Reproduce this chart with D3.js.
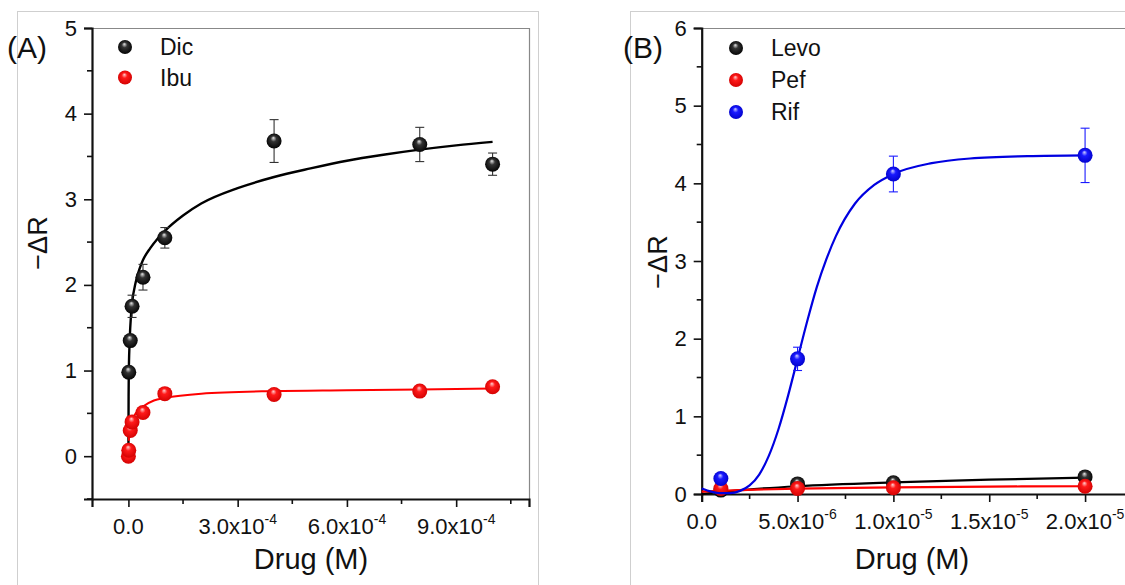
<!DOCTYPE html>
<html><head><meta charset="utf-8">
<script src="https://cdn.jsdelivr.net/npm/d3@7"></script>
<style>
body{margin:0;background:#fff}
text{font-family:"Liberation Sans",Arial,sans-serif;fill:#111}
</style></head>
<body><svg id="c" width="1125" height="585"></svg>
<script>
// ---------- Panel A data ----------
const dicX   = [1e-6, 5e-6, 1e-5, 4e-5, 1e-4, 4e-4, 8e-4, 1e-3];
const dicY   = [0.98, 1.35, 1.75, 2.09, 2.55, 3.68, 3.64, 3.41];
const dicErr = [0.05, 0.06, 0.13, 0.15, 0.12, 0.25, 0.20, 0.13];
const ibuX   = [0, 1e-6, 5e-6, 1e-5, 4e-5, 1e-4, 4e-4, 8e-4, 1e-3];
const ibuY   = [0.00, 0.07, 0.30, 0.40, 0.51, 0.73, 0.72, 0.76, 0.81];
// fitted curves
const dicFitX = [0, 5e-7, 1e-6, 3e-6, 5e-6, 1e-5, 2e-5, 3e-5, 4e-5, 6e-5, 8e-5, 1e-4, 1.5e-4, 2e-4, 3e-4, 4e-4, 5e-4, 6e-4, 7e-4, 8e-4, 9e-4, 1e-3];
const dicFitY = [0, 0.70, 0.95, 1.30, 1.50, 1.78, 2.03, 2.18, 2.29, 2.43, 2.54, 2.63, 2.81, 2.95, 3.13, 3.26, 3.36, 3.45, 3.52, 3.58, 3.63, 3.67];
const ibuFitX = [1e-6, 2e-6, 5e-6, 1e-5, 2e-5, 4e-5, 7e-5, 1e-4, 2e-4, 4e-4, 6e-4, 8e-4, 1e-3];
const ibuFitY = [0.18, 0.25, 0.35, 0.42, 0.50, 0.58, 0.65, 0.68, 0.73, 0.76, 0.77, 0.78, 0.79];
const xTicksA = [0, 3e-4, 6e-4, 9e-4];
const xLabA   = ["0.0", "3.0x10", "6.0x10", "9.0x10"];
const xExpA   = ["", "-4", "-4", "-4"];
const xMinorA = [1.5e-4, 4.5e-4, 7.5e-4, 1.05e-3];
const yTicksA = [0, 1, 2, 3, 4, 5];
const yMinorA = [-0.5, 0.5, 1.5, 2.5, 3.5, 4.5];

// ---------- Panel B data ----------
const bX      = [1e-6, 5e-6, 1e-5, 2e-5];
const levoY   = [0.05, 0.13, 0.145, 0.22];
const pefY    = [0.07, 0.07, 0.08, 0.10];
const rifY    = [0.20, 1.74, 4.12, 4.36];
const rifErr  = [0.03, 0.15, 0.23, 0.35];
const levoFitX = [0, 2e-6, 5e-6, 1e-5, 1.5e-5, 2e-5];
const levoFitY = [0.00, 0.05, 0.10, 0.15, 0.185, 0.21];
const pefFitX  = [0, 2e-6, 5e-6, 1e-5, 1.5e-5, 2e-5];
const pefFitY  = [0.03, 0.05, 0.07, 0.085, 0.095, 0.10];
const rifFitX  = [0, 5e-7, 1e-6, 1.5e-6, 2e-6, 2.5e-6, 3e-6, 3.5e-6, 4e-6, 4.5e-6, 5e-6, 5.5e-6, 6e-6, 6.5e-6, 7e-6, 8e-6, 9e-6, 1e-5, 1.2e-5, 1.4e-5, 1.7e-5, 2e-5];
const rifFitY  = [0.07, 0.03, 0.01, 0.01, 0.04, 0.11, 0.25, 0.49, 0.83, 1.26, 1.74, 2.22, 2.66, 3.02, 3.32, 3.74, 3.98, 4.12, 4.26, 4.32, 4.35, 4.36];
const xTicksB = [0, 5e-6, 1e-5, 1.5e-5, 2e-5];
const xLabB   = ["0.0", "5.0x10", "1.0x10", "1.5x10", "2.0x10"];
const xExpB   = ["", "-6", "-5", "-5", "-5"];
const xMinorB = [2.5e-6, 7.5e-6, 1.25e-5, 1.75e-5];
const yTicksB = [0, 1, 2, 3, 4, 5, 6];
const yMinorB = [0.5, 1.5, 2.5, 3.5, 4.5, 5.5];

const svg = d3.select("#c");
const defs = svg.append("defs");
function grad(id, hi, mid, dark) {
  const g = defs.append("radialGradient").attr("id", id)
    .attr("cx", "0.5").attr("cy", "0.5").attr("r", "0.55").attr("fx", "0.45").attr("fy", "0.28");
  g.append("stop").attr("offset", "0%").attr("stop-color", hi);
  g.append("stop").attr("offset", "35%").attr("stop-color", mid);
  g.append("stop").attr("offset", "100%").attr("stop-color", dark);
}
grad("gk", "#e8e8e8", "#333", "#000");
grad("gr", "#ffd0d0", "#ff1a1a", "#d00000");
grad("gb", "#d0d0ff", "#1a1aff", "#0000c8");

// panel outer boxes
svg.append("rect").attr("x", 17.5).attr("y", 11.5).attr("width", 521).attr("height", 620)
  .attr("fill", "none").attr("stroke", "#cfcfcf");
svg.append("rect").attr("x", 630.5).attr("y", 11.5).attr("width", 620).attr("height", 620)
  .attr("fill", "none").attr("stroke", "#cfcfcf");

function panel(o) {
  const g = svg.append("g");
  const x = d3.scaleLinear().domain(o.xd).range(o.xr);
  const y = d3.scaleLinear().domain(o.yd).range(o.yr);
  // frame top/right
  g.append("path").attr("d", `M${o.xr[0]},${o.yr[1]+0.5}H${o.xr[1]+0.5}V${o.yr[0]}`)
    .attr("fill", "none").attr("stroke", "#888").attr("stroke-width", 1.2);
  // y axis
  const ya = g.append("g").attr("transform", `translate(${o.xr[0]},0)`)
    .call(d3.axisLeft(y).tickValues(o.yt).tickFormat(d3.format("d")).tickSize(8).tickPadding(7));
  ya.append("g").selectAll("line").data(o.ym.filter(v => v >= o.yd[0] && v <= o.yd[1])).join("line")
    .attr("x1", 0).attr("x2", -5).attr("y1", d => y(d)).attr("y2", d => y(d))
    .attr("stroke", "#111").attr("stroke-width", 1.6);
  // x axis
  const xa = g.append("g").attr("transform", `translate(0,${o.yr[0]})`)
    .call(d3.axisBottom(x).tickValues(o.xt).tickFormat("").tickSize(8));
  xa.append("g").selectAll("line").data(o.xm).join("line")
    .attr("x1", d => x(d)).attr("x2", d => x(d)).attr("y1", 0).attr("y2", 5)
    .attr("stroke", "#111").attr("stroke-width", 1.6);
  [ya, xa].forEach(a => {
    a.select(".domain").attr("stroke", "#111").attr("stroke-width", 2.2);
    a.selectAll(".tick line").attr("stroke", "#111").attr("stroke-width", 1.6);
  });
  ya.selectAll(".tick text").attr("font-size", 22).attr("fill", "#111")
    .style("font-family", "Liberation Sans, Arial, sans-serif");
  // x tick labels with superscripts
  const tl = g.append("g");
  o.xt.forEach((v, i) => {
    const t = tl.append("text").attr("x", x(v)).attr("y", o.yr[0] + 35)
      .attr("text-anchor", "middle").attr("font-size", 22);
    t.append("tspan").text(o.xl[i]);
    if (o.xe[i]) t.append("tspan").attr("dy", -10).attr("font-size", 14).text(o.xe[i]);
  });
  // titles
  g.append("text").attr("x", o.xtitle[0]).attr("y", o.xtitle[1]).attr("text-anchor", "middle")
    .attr("font-size", 29).text("Drug (M)");
  g.append("text").attr("transform", `translate(${o.ytitle[0]},${o.ytitle[1]}) rotate(-90)`)
    .attr("text-anchor", "middle").attr("font-size", 27).text("\u2212\u0394R");
  g.append("text").attr("x", o.lab[0]).attr("y", o.lab[1]).attr("font-size", 30).text(o.label);

  const line = d3.line().x(d => x(d[0])).y(d => y(d[1])).curve(d3.curveMonotoneX);
  o.series.forEach(s => {
    g.append("path").datum(d3.zip(s.fx, s.fy)).attr("d", line)
      .attr("fill", "none").attr("stroke", s.color).attr("stroke-width", s.lw || 2.2);
    if (s.err) {
      const eb = g.append("g").attr("stroke", s.ecolor).attr("stroke-width", 1.1);
      s.x.forEach((xv, i) => {
        const cx = x(xv), y1 = y(s.y[i] - s.err[i]), y2 = y(s.y[i] + s.err[i]);
        eb.append("line").attr("x1", cx).attr("x2", cx).attr("y1", y1).attr("y2", y2);
        eb.append("line").attr("x1", cx - 4.5).attr("x2", cx + 4.5).attr("y1", y1).attr("y2", y1);
        eb.append("line").attr("x1", cx - 4.5).attr("x2", cx + 4.5).attr("y1", y2).attr("y2", y2);
      });
    }
    g.append("g").selectAll("circle").data(d3.zip(s.x, s.y)).join("circle")
      .attr("cx", d => x(d[0])).attr("cy", d => y(d[1])).attr("r", 7.5)
      .attr("fill", `url(#${s.grad})`);
  });
  // legend
  o.series.forEach((s, i) => {
    const ly = o.leg[1] + i * o.legStep;
    g.append("circle").attr("cx", o.leg[0]).attr("cy", ly).attr("r", 7).attr("fill", `url(#${s.grad})`);
    g.append("text").attr("x", o.leg[0] + 35).attr("y", ly + 8).attr("font-size", 23).text(s.name);
  });
}

panel({
  xd: [-1e-4, 1.1e-3], xr: [92, 529], yd: [-0.5, 5], yr: [499, 28],
  xt: xTicksA, xl: xLabA, xe: xExpA, xm: xMinorA, yt: yTicksA, ym: yMinorA,
  xtitle: [311, 569], ytitle: [47, 243], lab: [7, 58], label: "(A)",
  leg: [125, 47], legStep: 30.5,
  series: [
    { name: "Dic", x: dicX, y: dicY, err: dicErr, ecolor: "#333", fx: dicFitX, fy: dicFitY, color: "#000", grad: "gk", lw: 2.4 },
    { name: "Ibu", x: ibuX, y: ibuY, fx: ibuFitX, fy: ibuFitY, color: "#f00", grad: "gr", lw: 2 }
  ]
});

panel({
  xd: [0, 2.25e-5], xr: [701.7, 1133], yd: [0, 6], yr: [494, 28],
  xt: xTicksB, xl: xLabB, xe: xExpB, xm: xMinorB, yt: yTicksB, ym: yMinorB,
  xtitle: [912, 569], ytitle: [667, 262], lab: [623, 58], label: "(B)",
  leg: [736, 48], legStep: 32,
  series: [
    { name: "Levo", x: bX, y: levoY, fx: levoFitX, fy: levoFitY, color: "#000", grad: "gk" },
    { name: "Pef", x: bX, y: pefY, fx: pefFitX, fy: pefFitY, color: "#f00", grad: "gr" },
    { name: "Rif", x: bX, y: rifY, err: rifErr, ecolor: "#1a1aff", fx: rifFitX, fy: rifFitY, color: "#0000e0", grad: "gb" }
  ]
});
</script></body></html>
